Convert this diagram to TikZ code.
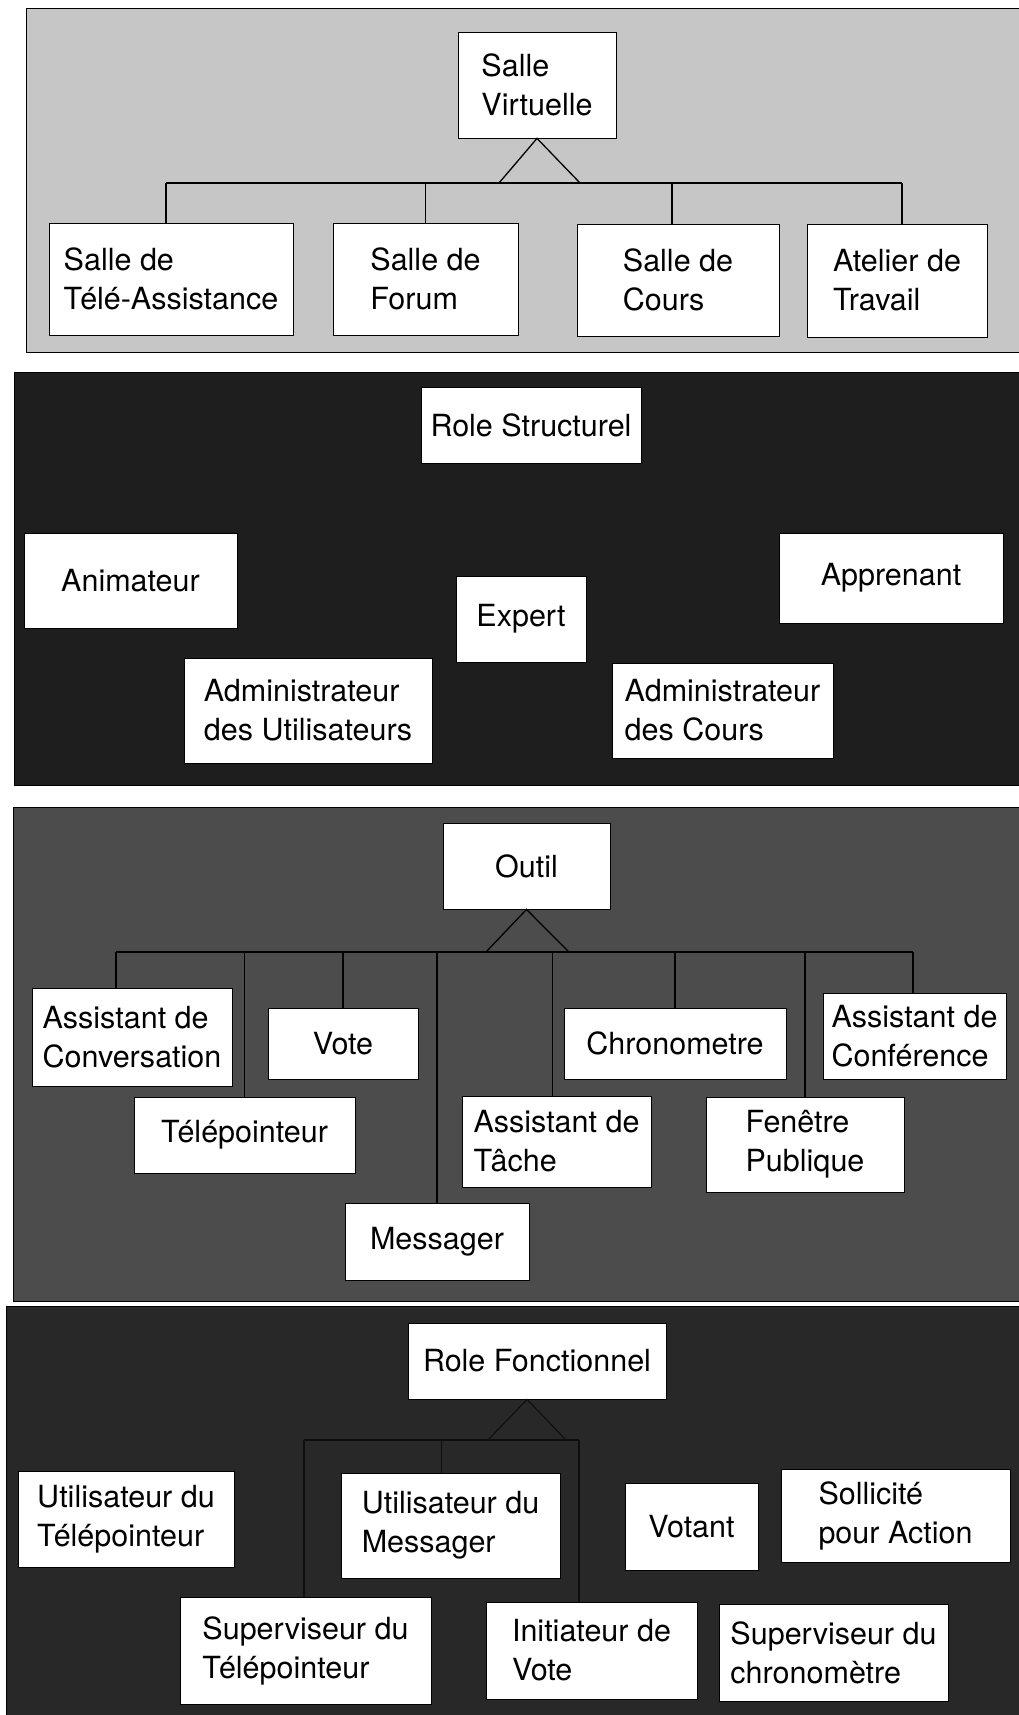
\documentclass[tikz,border=0pt]{standalone}
\usepackage{fontspec}
\setmainfont{TeX Gyre Heros}
\definecolor{panelA}{HTML}{C6C6C6}
\definecolor{panelB}{HTML}{1E1E1E}
\definecolor{panelC}{HTML}{4C4C4C}
\definecolor{panelD}{HTML}{282828}
\definecolor{faintline}{HTML}{0E0E0E}
\begin{document}
\begin{tikzpicture}[x=1pt,y=-1pt,
  box/.style={draw=black, line width=0.8pt, fill=white, inner sep=0pt,
    align=left, font=\fontsize{30.5}{39}\selectfont},
  wh/.style 2 args={minimum width=#1pt, minimum height=#2pt},
  link/.style={draw=black, line width=1.3pt},
  dimlink/.style={draw=faintline, line width=1.1pt},
  panel/.style={draw=black, line width=1pt}]
\useasboundingbox (0,0) rectangle (1018,1715);
\fill[white] (0,0) rectangle (1018,1715);

% background bands
\path[panel, fill=panelA] (26,9) rectangle (1019,352);
\path[panel, fill=panelB] (14,372) rectangle (1019,785);
\path[panel, fill=panelC] (13,807) rectangle (1019,1301);
\path[panel, fill=panelD] (6,1306) rectangle (1019,1716);

% ---- Salle Virtuelle ----
\node[box, wh={158}{106}] (sv) at (537,85) {Salle\\Virtuelle};
\node[box, wh={244}{112}] (ta) at (171,279) {Salle de\\Télé-Assistance};
\node[box, wh={185}{112}] (fo) at (425.5,279) {Salle de\\Forum};
\node[box, wh={202}{112}] (co) at (678,280) {Salle de\\Cours};
\node[box, wh={180}{113}] (at) at (897,280.5) {Atelier de\\Travail};

\coordinate (b1L) at (166,183);
\coordinate (b1R) at (902,183);
\coordinate (t1L) at (499,183);
\coordinate (t1R) at (580,183);
\draw[link] (b1L) -- (b1R);
\draw[link] (sv.south) -- (t1L) -- (t1R) -- cycle;
\draw[link] (b1L) -- (b1L |- ta.north);
\draw[link] (fo.north) -- (fo.north |- b1L);
\draw[link] ([xshift=-6pt]co.north) -- ([xshift=-6pt]co.north |- b1L);
\draw[link] (b1R) -- (b1R |- at.north);

% ---- Role Structurel ----
\node[box, wh={220}{76}] (rs) at (531,425) {Role Structurel};
\node[box, wh={213}{95}] (an) at (130.5,580.5) {Animateur};
\node[box, wh={130}{86}] (ex) at (521,619) {Expert};
\node[box, wh={224}{90}] (ap) at (891,578) {Apprenant};
\node[box, wh={248}{105}] (au) at (308,710.5) {Administrateur\\des Utilisateurs};
\node[box, wh={221}{95}] (ac) at (722.5,710.5) {Administrateur\\des Cours};

% ---- Outil ----
\node[box, wh={167}{86}] (ou) at (526.5,866) {Outil};
\node[box, wh={200}{98}] (cv) at (132,1037) {Assistant de\\Conversation};
\node[box, wh={150}{71}] (vo) at (343,1043.5) {Vote};
\node[box, wh={222}{71}] (ch) at (675,1043.5) {Chronometre};
\node[box, wh={183}{86}] (cf) at (914.5,1036) {Assistant de\\Conférence};
\node[box, wh={221}{76}] (tp) at (244.5,1135) {Télépointeur};
\node[box, wh={189}{91}] (tc) at (556.5,1141.5) {Assistant de\\Tâche};
\node[box, wh={198}{95}] (fp) at (805,1144.5) {Fenêtre\\Publique};
\node[box, wh={184}{77}] (ms) at (437,1241.5) {Messager};

\coordinate (b3L) at (116,952);
\coordinate (b3R) at (913,952);
\coordinate (t3L) at (486,952);
\coordinate (t3R) at (569,952);
\draw[link] (b3L) -- (b3R);
\draw[link] (ou.south) -- (t3L) -- (t3R) -- cycle;
\draw[link] (b3L) -- (b3L |- cv.north);
\draw[link] (tp.north) -- (tp.north |- b3L);
\draw[link] (vo.north) -- (vo.north |- b3L);
\draw[link] (ms.north) -- (ms.north |- b3L);
\draw[link] ([xshift=-4pt]tc.north) -- ([xshift=-4pt]tc.north |- b3L);
\draw[link] (ch.north) -- (ch.north |- b3L);
\draw[link] (fp.north) -- (fp.north |- b3L);
\draw[link] (b3R) -- (b3R |- cf.north);

% ---- Role Fonctionnel ----
\node[box, wh={258}{76}] (rf) at (537,1361) {Role Fonctionnel};
\node[box, wh={216}{96}] (ut) at (126,1519) {Utilisateur du\\Télépointeur};
\node[box, wh={219}{105}] (um) at (450.5,1525.5) {Utilisateur du\\Messager};
\node[box, wh={133}{87}] (vt) at (691.5,1526.5) {Votant};
\node[box, wh={229}{93}] (sa) at (895.5,1515.5) {Sollicité\\pour Action};
\node[box, wh={251}{107}] (st) at (305.5,1650.5) {Superviseur du\\Télépointeur};
\node[box, wh={211}{97}] (iv) at (591.5,1650.5) {Initiateur de\\Vote};
\node[box, wh={229}{97}] (sc) at (833.5,1652.5) {Superviseur du\\chronomètre};

\coordinate (b4L) at (304,1440);
\coordinate (b4R) at (579,1440);
\coordinate (t4L) at (488,1440);
\coordinate (t4R) at (566,1440);
\draw[dimlink] (b4L) -- (b4R);
\draw[dimlink] ([xshift=-10pt]rf.south) -- (t4L) -- (t4R) -- cycle;
\draw[dimlink] (b4L) -- (b4L |- st.north);
\draw[dimlink] ([xshift=-9pt]um.north) -- ([xshift=-9pt]um.north |- b4L);
\draw[dimlink] (b4R) -- (b4R |- iv.north);
\end{tikzpicture}
\end{document}
